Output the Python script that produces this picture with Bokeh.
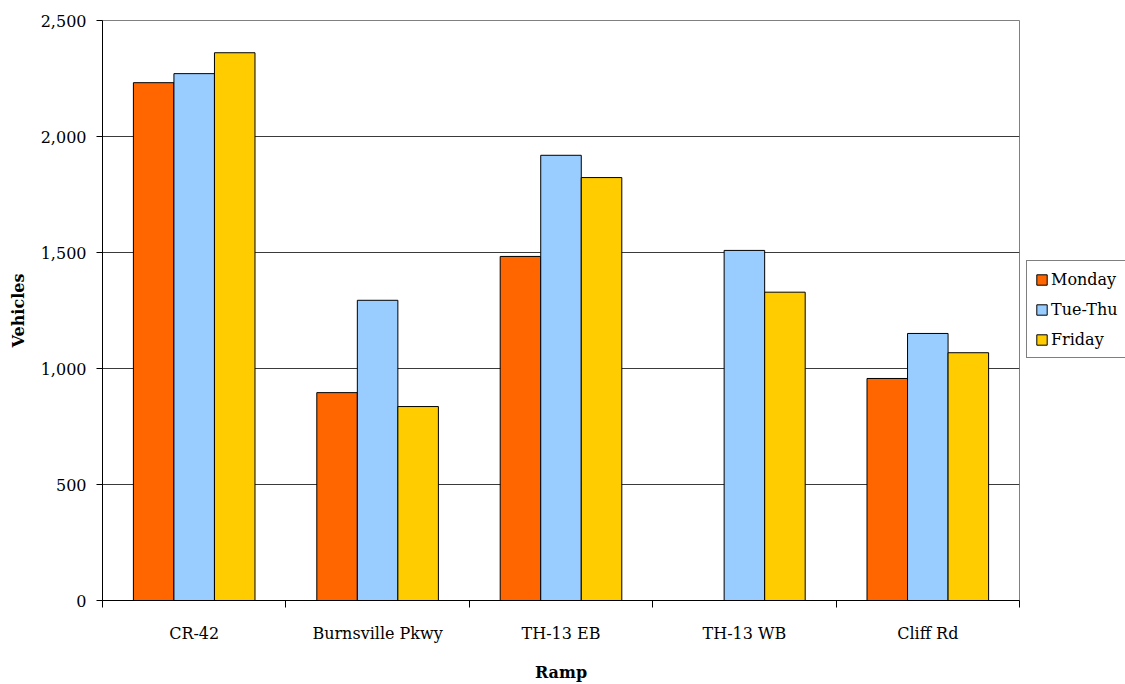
import numpy as np
from bokeh.plotting import figure
from bokeh.layouts import row
from bokeh.models import (ColumnDataSource, Range1d, LinearAxis, FixedTicker,
                          NumeralTickFormatter, Legend, LegendItem, Grid)
from bokeh.embed import file_html
from bokeh.resources import INLINE

ramps = ["CR-42", "Burnsville Pkwy", "TH-13 EB", "TH-13 WB", "Cliff Rd"]
series = ["Monday", "Tue-Thu", "Friday"]
monday = [2232, 896, 1483, 0, 957]
tue_thu = [2271, 1294, 1919, 1509, 1151]
friday = [2361, 836, 1823, 1329, 1068]
colors = ["#FF6600", "#99CCFF", "#FFCC00"]
y_ticks = [0, 500, 1000, 1500, 2000, 2500]

FONT = "DejaVu Serif"
BAR_W = 0.221
H = 684

p = figure(width=1020, height=H, output_backend="svg", toolbar_location=None,
           x_range=Range1d(0, len(ramps)), y_range=Range1d(0, 2500),
           x_axis_type=None, y_axis_type=None,
           min_border_left=102, min_border_right=1, min_border_top=20, min_border_bottom=82)
p.background_fill_color = "white"
p.border_fill_color = "white"
p.outline_line_color = "#808080"
p.outline_line_width = 1

idx = np.arange(len(ramps)) + 0.5
sources = []
for k, (vals, col) in enumerate(zip([monday, tue_thu, friday], colors)):
    src = ColumnDataSource(dict(x=idx + (k - 1) * BAR_W, top=vals, ramp=ramps))
    sources.append(src)
    p.vbar(x="x", top="top", bottom=0, width=BAR_W, source=src,
           fill_color=col, line_color="black", line_width=1)

# y axis
yaxis = LinearAxis(ticker=FixedTicker(ticks=y_ticks, minor_ticks=[]),
                   formatter=NumeralTickFormatter(format="0,0"),
                   axis_label="Vehicles")
yaxis.major_tick_out = 6
yaxis.major_tick_in = 0
yaxis.minor_tick_out = 0
yaxis.minor_tick_in = 0
yaxis.major_label_standoff = 10
yaxis.axis_line_color = "black"
yaxis.major_tick_line_color = "black"
yaxis.major_label_text_font = FONT
yaxis.major_label_text_font_size = "16px"
yaxis.major_label_text_color = "black"
yaxis.axis_label_text_font = FONT
yaxis.axis_label_text_font_size = "16px"
yaxis.axis_label_text_font_style = "bold"
yaxis.axis_label_text_color = "black"
yaxis.axis_label_standoff = 10
p.add_layout(yaxis, "left")

# x axis: labels at category centres, ticks at category boundaries
xaxis = LinearAxis(ticker=FixedTicker(ticks=list(idx), minor_ticks=list(range(len(ramps) + 1))),
                   axis_label="Ramp")
xaxis.major_label_overrides = {float(v): r for v, r in zip(idx, ramps)}
xaxis.major_tick_out = 0
xaxis.major_tick_in = 0
xaxis.minor_tick_out = 7
xaxis.minor_tick_in = 0
xaxis.major_label_standoff = 16
xaxis.axis_line_color = "black"
xaxis.minor_tick_line_color = "black"
xaxis.major_label_text_font = FONT
xaxis.major_label_text_font_size = "16px"
xaxis.major_label_text_color = "black"
xaxis.axis_label_text_font = FONT
xaxis.axis_label_text_font_size = "16px"
xaxis.axis_label_text_font_style = "bold"
xaxis.axis_label_text_color = "black"
xaxis.axis_label_standoff = 17
p.add_layout(xaxis, "below")

grid = Grid(dimension=1, ticker=yaxis.ticker)
grid.grid_line_color = "#3a3a3a"
grid.grid_line_width = 1
p.add_layout(grid)

# legend panel to the right of the plot area (its proxy renderers are hidden)
q = figure(width=1125 - 1020, height=H, output_backend="svg", toolbar_location=None,
           x_range=Range1d(100, 101), y_range=Range1d(0, 2500),
           x_axis_type=None, y_axis_type=None,
           min_border_left=0, min_border_right=0, min_border_top=0, min_border_bottom=0)
q.outline_line_color = None
q.grid.visible = False
items = []
for name, col, src in zip(series, colors, sources):
    r = q.vbar(x="x", top="top", bottom=0, width=BAR_W, source=src,
               fill_color=col, line_color="black", line_width=1)
    r.visible = False
    items.append(LegendItem(label=name, renderers=[r]))

legend = Legend(items=items, location=(6, 242))
legend.label_text_font = FONT
legend.label_text_font_size = "16px"
legend.label_text_color = "black"
legend.glyph_width = 13
legend.glyph_height = 13
legend.label_height = 20
legend.label_standoff = 3
legend.spacing = 10
legend.padding = 8
legend.margin = 0
legend.border_line_color = "black"
legend.border_line_width = 1
legend.background_fill_color = "white"
legend.background_fill_alpha = 1
q.add_layout(legend, "center")

layout = row(p, q, spacing=0)
open("out.html", "w").write(file_html(layout, INLINE))
